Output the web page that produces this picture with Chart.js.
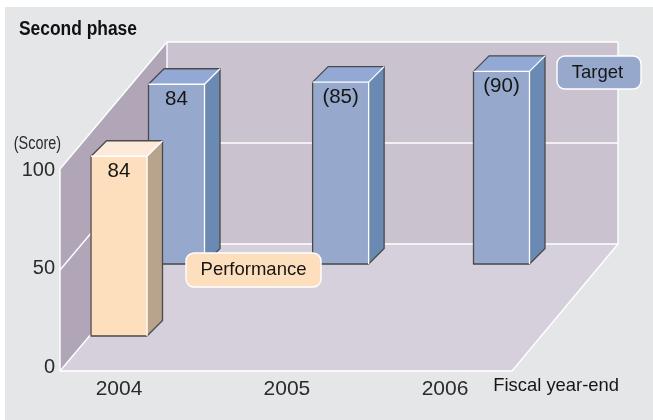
<!DOCTYPE html>
<html>
<head>
<meta charset="utf-8">
<script src="https://cdn.jsdelivr.net/npm/chart.js@4"></script>
<style>
html,body{margin:0;padding:0;background:#fff;overflow:hidden}
#panel{position:absolute;left:5px;top:7px;width:648px;height:413px;background:#e5e6e8}
#c{position:absolute;left:0;top:0}
</style>
</head>
<body>
<div id="panel"></div>
<canvas id="c" width="653" height="420"></canvas>
<script>
const years = [2004, 2005, 2006];
const performance_ = [84, null, null];
const target = [84, 85, 90];
const performanceLabels = ["84", "", ""];
const targetLabels = ["84", "(85)", "(90)"];
const yTicks = [0, 50, 100];
const yearLabelSlots = [2004, 2005.03, 2006];
const targetSlots = [2004, 2005.01, 2006];
const titleText = "Second phase";
const yUnit = "(Score)";
const xUnit = "Fiscal year-end";

const FONT = "'Liberation Sans', Arial, sans-serif";
const INK = "#2b2b2b";
const VALUE_INK = "#161616";
const EDGE = "#4a4a4a";
const WALL = {left:"#b0a6b8", back:"#cac2ce", floor:"#d6d0dc", line:"#ffffff"};
const BAR = {
  Performance:{front:"#fddfbd", top:"#fdeadb", side:"#b8a48c"},
  Target:{front:"#96a9cc", top:"#92a9d6", side:"#6a8ab3"}
};
const DEPTH_WALL = {x:107, y:127};
const DEPTH_BAR = 15.5;

function poly(ctx, pts, fill){
  ctx.beginPath();
  pts.forEach((p,i)=> i?ctx.lineTo(p[0],p[1]):ctx.moveTo(p[0],p[1]));
  ctx.closePath();
  ctx.fillStyle = fill;
  ctx.fill();
}
function seg(ctx, pts, color, w){
  ctx.beginPath();
  pts.forEach((p,i)=> i?ctx.lineTo(p[0],p[1]):ctx.moveTo(p[0],p[1]));
  ctx.strokeStyle = color;
  ctx.lineWidth = w;
  ctx.lineJoin = "round";
  ctx.stroke();
}
function text(ctx, s, x, y, font, color, align, squeeze){
  ctx.save();
  ctx.font = font;
  ctx.fillStyle = color;
  ctx.textAlign = align || "center";
  ctx.textBaseline = "middle";
  ctx.translate(x, y);
  ctx.scale(squeeze || 1, 1);
  ctx.fillText(s, 0, 0);
  ctx.restore();
}
function callout(ctx, x, y, w, h, fill, label, nudge){
  ctx.beginPath();
  ctx.roundRect(x, y, w, h, 8);
  ctx.fillStyle = fill;
  ctx.fill();
  ctx.strokeStyle = "#fff";
  ctx.lineWidth = 1.4;
  ctx.stroke();
  text(ctx, label, x+w/2+nudge, y+h/2, "18.5px "+FONT, VALUE_INK);
}

const stage3d = {
  id:"stage3d",
  beforeDatasetsDraw(chart){
    const {ctx, chartArea:a, scales} = chart;
    const yb = scales.yBack;
    const bTop = yb.getPixelForValue(100), bBase = yb.getPixelForValue(0), bMid = yb.getPixelForValue(50);
    const l = a.left, r = a.right, bl = l + DEPTH_WALL.x, fr = r - DEPTH_WALL.x + 1;
    const fTop = bTop + DEPTH_WALL.y, fMid = bMid + DEPTH_WALL.y, fBase = bBase + DEPTH_WALL.y;
    ctx.save();
    poly(ctx, [[bl,bTop],[r,bTop],[r,bBase],[bl,bBase]], WALL.back);
    poly(ctx, [[l,fTop],[bl,bTop],[bl,bBase],[l,fBase]], WALL.left);
    poly(ctx, [[l,fBase],[bl,bBase],[r,bBase],[fr,fBase]], WALL.floor);
    const W = 1.4;
    seg(ctx, [[l,fBase],[l,fTop],[bl,bTop],[r,bTop],[r,bBase],[fr,fBase],[l,fBase]], WALL.line, W);
    seg(ctx, [[bl,bTop],[bl,bBase]], WALL.line, W);
    seg(ctx, [[l,fBase],[bl,bBase],[r,bBase]], WALL.line, W);
    seg(ctx, [[l,fMid],[bl,bMid],[r,bMid]], WALL.line, W);
    ctx.restore();
  },
  beforeDatasetDraw(chart, args){
    const {ctx} = chart;
    const colors = BAR[chart.data.datasets[args.index].label];
    const d = DEPTH_BAR;
    ctx.save();
    args.meta.data.forEach((b,i)=>{
      if (args.meta._parsed[i].y == null || isNaN(b.y)) return;
      const x0=b.x-b.width/2, x1=b.x+b.width/2, t=b.y, e=b.base;
      poly(ctx, [[x1,t],[x1+d,t-d],[x1+d,e-d],[x1,e]], colors.side);
      poly(ctx, [[x0,t],[x0+d,t-d],[x1+d,t-d],[x1,t]], colors.top);
    });
    ctx.restore();
  },
  afterDatasetDraw(chart, args){
    const {ctx} = chart;
    const d = DEPTH_BAR;
    const labels = chart.data.datasets[args.index].valueLabels;
    ctx.save();
    args.meta.data.forEach((b,i)=>{
      if (args.meta._parsed[i].y == null || isNaN(b.y)) return;
      const x0=b.x-b.width/2, x1=b.x+b.width/2, t=b.y, e=b.base;
      seg(ctx, [[x1,e],[x0,e],[x0,t],[x0+d,t-d],[x1+d,t-d],[x1+d,e-d],[x1,e]], EDGE, 1.3);
      seg(ctx, [[x0,t],[x1,t],[x1,e]], "#fff", 1.3);
      seg(ctx, [[x1,t],[x1+d,t-d]], "#fff", 1.3);
      text(ctx, labels[i], b.x, t+15, "20.5px "+FONT, VALUE_INK);
    });
    ctx.restore();
  },
  afterDraw(chart){
    const {ctx, chartArea:a, data} = chart;
    ctx.save();
    callout(ctx, 186, 253, 135, 34, BAR.Performance.front, data.datasets[0].label, 0);
    callout(ctx, 557, 56, 84, 33, BAR.Target.front, data.datasets[1].label, -1.5);
    text(ctx, titleText, 19, 29, "bold 20px "+FONT, "#111", "left", 0.87);
    text(ctx, yUnit, a.left+1, 144, "18px "+FONT, INK, "right", 0.8);
    text(ctx, xUnit, a.right+1, 386, "18.4px "+FONT, VALUE_INK, "right");
    ctx.restore();
  }
};

function span(zeroPx, topPx, bottomPx, unit){
  return {min:-(bottomPx-zeroPx)/unit, max:(zeroPx-topPx)/unit};
}
const TOP=42, BOTTOM=371;

new Chart(document.getElementById("c"), {
  type:"bar",
  data:{
    datasets:[
      {label:"Performance", data:years.map((x,i)=>({x,y:performance_[i]})), valueLabels:performanceLabels, grouped:false,
       xAxisID:"x", yAxisID:"yPerf", backgroundColor:BAR.Performance.front, borderWidth:0, barThickness:56},
      {label:"Target", data:targetSlots.map((x,i)=>({x,y:target[i]})), valueLabels:targetLabels, grouped:false,
       xAxisID:"xBack", yAxisID:"yTarget", backgroundColor:BAR.Target.front, borderWidth:0, barThickness:56}
    ]
  },
  plugins:[stage3d],
  options:{
    responsive:false,
    animation:false,
    events:[],
    layout:{padding:{left:0,right:35,top:42,bottom:0}},
    plugins:{legend:{display:false},tooltip:{enabled:false},title:{display:false}},
    scales:{
      x:{type:"linear",position:"bottom",min:2003.638,max:2007.061,offset:false,
        afterFit(s){s.height=49;},
        afterBuildTicks(s){s.ticks=yearLabelSlots.map(v=>({value:v}));},
        grid:{display:false,tickLength:0},border:{display:false},
        ticks:{autoSkip:false,maxRotation:0,minRotation:0,padding:6,color:INK,
          font:{family:FONT,size:21},
          callback:(v,i)=>String(years[i])}},
      xBack:{type:"linear",display:false,position:"bottom",min:2003.283,max:2006.717,offset:false,grid:{display:false}},
      y:{type:"linear",position:"left",...span(367,TOP,BOTTOM,1.97),
        afterFit(s){s.width=60;},
        afterBuildTicks(s){s.ticks=yTicks.map(v=>({value:v}));},
        grid:{display:false,tickLength:0},border:{display:false},
        ticks:{padding:5,color:INK,font:{family:FONT,size:20},callback:v=>String(v)}},
      yBack:{type:"linear",display:false,position:"left",...span(244,TOP,BOTTOM,2.02),grid:{display:false}},
      yPerf:{type:"linear",display:false,position:"left",...span(336,TOP,BOTTOM,2.14),grid:{display:false}},
      yTarget:{type:"linear",display:false,position:"left",...span(264,TOP,BOTTOM,2.14),grid:{display:false}}
    }
  }
});
</script>
</body>
</html>
